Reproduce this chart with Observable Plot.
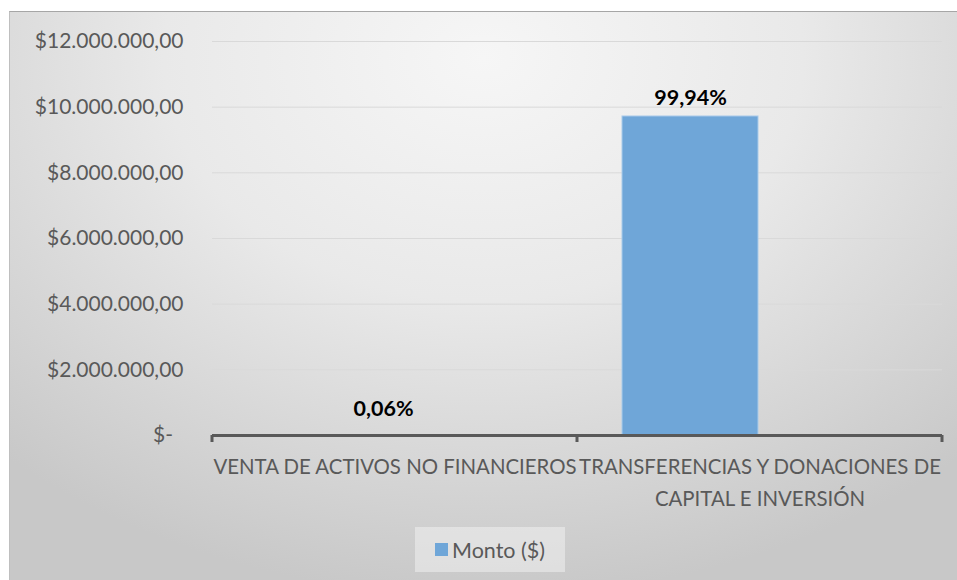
<!DOCTYPE html>
<html>
<head>
<meta charset="utf-8">
<script src="https://cdn.jsdelivr.net/npm/d3@7"></script>
<script src="https://cdn.jsdelivr.net/npm/@observablehq/plot@0.6"></script>
<style>
  html, body { margin: 0; padding: 0; width: 957px; height: 580px; overflow: hidden; background: #ffffff; }
  #bg { position: absolute; left: 9px; top: 11px; width: 948px; height: 569px;
        border-top: 1px solid #a6a6a6; border-left: 1px solid #bfbfbf; box-sizing: border-box;
        background: radial-gradient(ellipse 75% 95% at 50% 8%, #f6f6f6 0%, #e9e9e9 45%, #d4d4d4 80%, #c8c8c8 100%); }
  #chart { position: absolute; left: 0; top: 0; }
  #legend { position: absolute; left: 415px; top: 527px; width: 150px; height: 45px;
            background: rgba(240,240,240,0.55); font-family: Lato, "Open Sans", sans-serif; font-size: 21.5px; color: #595959;
            display: flex; align-items: center; justify-content: center; gap: 4px; }
  #legend .sw { width: 13px; height: 13px; background: #6fa6d8; display: inline-block; }
</style>
</head>
<body>
<div id="bg"></div>
<div id="chart"></div>
<div id="legend"><span class="sw"></span><span>Monto ($)</span></div>
<script>
const categories = ["VENTA DE ACTIVOS NO FINANCIEROS", "TRANSFERENCIAS Y DONACIONES DE CAPITAL E INVERSIÓN"];
const categoryLabels = ["VENTA DE ACTIVOS NO FINANCIEROS", "TRANSFERENCIAS Y DONACIONES DE\nCAPITAL E INVERSIÓN"];
const montos = [5830, 9716000];
const percentLabels = ["0,06%", "99,94%"];
const yTicks = [0, 2000000, 4000000, 6000000, 8000000, 10000000, 12000000];
const seriesName = "Monto ($)";

const data = categories.map((c, i) => ({categoria: c, monto: montos[i], pct: percentLabels[i]}));

const loc = d3.formatLocale({decimal: ",", thousands: ".", grouping: [3], currency: ["$", ""]});
const fmt = loc.format("$,.2f");
const yFormat = v => v === 0 ? "$-\u2002" : fmt(v);
const xFormat = c => categoryLabels[categories.indexOf(c)];

const font = "Lato, 'Open Sans', sans-serif";

const boundaryTicks = (index, scales, values, dims) => {
  const n = categories.length;
  const bw = (dims.width - dims.marginLeft - dims.marginRight) / n;
  const y0 = scales.y(0);
  const g = d3.create("svg:g");
  const xs = categories.map(c => scales.x(c));
  xs.push(scales.x(categories[n - 1]) + bw);
  xs.forEach(x => {
    g.append("line").attr("x1", x).attr("x2", x).attr("y1", y0).attr("y2", y0 + 7)
      .attr("stroke", "#595959").attr("stroke-width", 3);
  });
  return g.node();
};

const chart = Plot.plot({
  width: 957,
  height: 520,
  marginLeft: 212,
  marginRight: 15,
  marginTop: 41,
  marginBottom: 85,
  style: {background: "transparent", fontFamily: font, overflow: "visible"},
  x: {domain: categories, padding: 0, label: null},
  y: {domain: [0, 12000000], label: null},
  marks: [
    Plot.ruleY(yTicks.filter(t => t > 0), {stroke: "#d9d9d9", strokeWidth: 1}),
    Plot.barY(data, {x: "categoria", y: "monto", fill: "#6fa6d8", stroke: "#a9cbea", strokeWidth: 1,
      insetLeft: 45, insetRight: 184}),
    Plot.ruleY([0], {stroke: "#595959", strokeWidth: 3}),
    boundaryTicks,
    Plot.text(data.filter(d => d.categoria === categories[1]), {x: "categoria", y: "monto", text: "pct",
      dx: -69.5, dy: -11, lineAnchor: "bottom", fontWeight: "bold", fontSize: 21.5, fill: "#000000"}),
    Plot.text(data.filter(d => d.categoria === categories[0]), {x: "categoria", y: "monto", text: "pct",
      dx: -11.5, dy: -19, lineAnchor: "bottom", fontWeight: "bold", fontSize: 21.5, fill: "#000000"}),
    Plot.axisY({ticks: yTicks, tickSize: 0, tickPadding: 29, tickFormat: yFormat, fontSize: 21, fill: "#595959", label: null}),
    Plot.axisX({tickSize: 0, tickPadding: 16, tickFormat: xFormat, fontSize: 20.4, fill: "#595959", lineHeight: 1.55, label: null})
  ]
});
document.getElementById("chart").appendChild(chart);
</script>
</body>
</html>
